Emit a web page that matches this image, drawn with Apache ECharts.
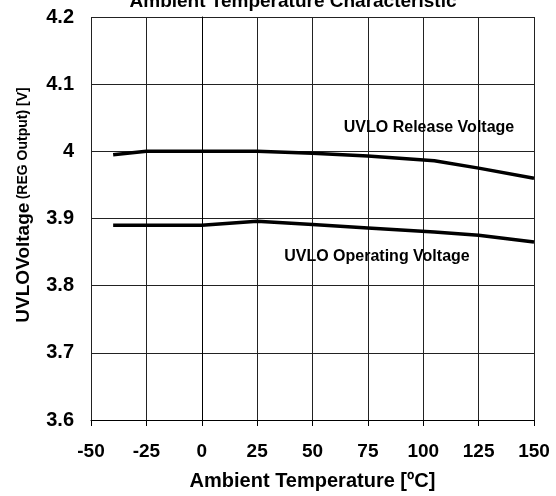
<!DOCTYPE html>
<html>
<head>
<meta charset="utf-8">
<script src="https://cdn.jsdelivr.net/npm/echarts@6/dist/echarts.min.js"></script>
<style>
  html, body { margin: 0; padding: 0; background: #fff; }
  #chart { width: 556px; height: 496px; }
</style>
</head>
<body>
<div id="chart"></div>
<script>
// UVLO voltage vs ambient temperature
const temps = [-40, -25, 0, 25, 50, 75, 105, 125, 150];
const releaseVoltage = [3.995, 4.0, 4.0, 4.0, 3.997, 3.993, 3.986, 3.975, 3.96];
const operatingVoltage = [3.89, 3.89, 3.89, 3.896, 3.891, 3.886, 3.88, 3.875, 3.865];
const xTicks = [-50, -25, 0, 25, 50, 75, 100, 125, 150];
const yTicks = [3.6, 3.7, 3.8, 3.9, 4, 4.1, 4.2];

function pairs(xs, ys) {
    return xs.map((x, i) => [x, ys[i]]);
}

function drawChart() {
    var dom = document.getElementById('chart');
    var myChart = echarts.init(dom, null, { renderer: 'canvas' });
    var font = 'Liberation Sans, Arial, sans-serif';

    var option = {
        animation: false,
        title: {
            text: 'Ambient Temperature Characteristic',
            left: 288,
            textAlign: 'center',
            top: -13,
            textStyle: { fontFamily: font, fontSize: 19, fontWeight: 'bold', color: '#000' }
        },
        grid: { left: 91, right: 22, top: 17, bottom: 76 },
        xAxis: {
            type: 'value',
            min: -50,
            max: 150,
            interval: 25,
            name: 'Ambient Temperature [ºC]',
            nameLocation: 'middle',
            nameGap: 51,
            nameTextStyle: { fontFamily: font, fontSize: 20, fontWeight: 'bold', color: '#000' },
            axisLine: { lineStyle: { color: '#000', width: 1 } },
            axisTick: { show: true, length: 6, lineStyle: { color: '#000' } },
            axisLabel: {
                fontFamily: font, fontSize: 19, fontWeight: 'bold', color: '#000', margin: 22,
                formatter: function (v) { return xTicks.indexOf(v) >= 0 ? String(v) : ''; }
            },
            splitLine: { show: true, lineStyle: { color: '#222', width: 1 } }
        },
        yAxis: {
            type: 'value',
            min: 3.6,
            max: 4.2,
            interval: 0.1,
            name: '{a|UVLOVoltage} {b|(REG Output) [V]}',
            nameLocation: 'middle',
            nameRotate: 90,
            nameGap: 58,
            nameTextStyle: {
                padding: [0, 0, 0, 27],
                rich: {
                    a: { fontFamily: font, fontSize: 19, fontWeight: 'bold', color: '#000' },
                    b: { fontFamily: font, fontSize: 14, fontWeight: 'bold', color: '#000' }
                }
            },
            axisLine: { show: true, lineStyle: { color: '#000', width: 1 } },
            axisTick: { show: false },
            axisLabel: {
                fontFamily: font, fontSize: 20, fontWeight: 'bold', color: '#000', margin: 17,
                formatter: function (v) {
                    var r = Math.round(v * 10) / 10;
                    return yTicks.indexOf(r) >= 0 ? String(r) : '';
                }
            },
            splitLine: { show: true, lineStyle: { color: '#222', width: 1 } }
        },
        series: [
            {
                name: 'UVLO Release Voltage',
                type: 'line',
                data: pairs(temps, releaseVoltage),
                symbol: 'none',
                lineStyle: { color: '#000', width: 3.5 },
                markPoint: {
                    symbol: 'circle',
                    symbolSize: 0,
                    label: {
                        show: true, position: 'inside',
                        formatter: 'UVLO Release Voltage',
                        fontFamily: font, fontSize: 16, fontWeight: 'bold', color: '#000'
                    },
                    data: [{ coord: [102.6, 4.035] }]
                }
            },
            {
                name: 'UVLO Operating Voltage',
                type: 'line',
                data: pairs(temps, operatingVoltage),
                symbol: 'none',
                lineStyle: { color: '#000', width: 3.5 },
                markPoint: {
                    symbol: 'circle',
                    symbolSize: 0,
                    label: {
                        show: true, position: 'inside',
                        formatter: 'UVLO Operating Voltage',
                        fontFamily: font, fontSize: 16, fontWeight: 'bold', color: '#000'
                    },
                    data: [{ coord: [79.1, 3.844] }]
                }
            }
        ]
    };

    myChart.setOption(option);
    window.addEventListener('resize', myChart.resize);
}

drawChart();
</script>
</body>
</html>
